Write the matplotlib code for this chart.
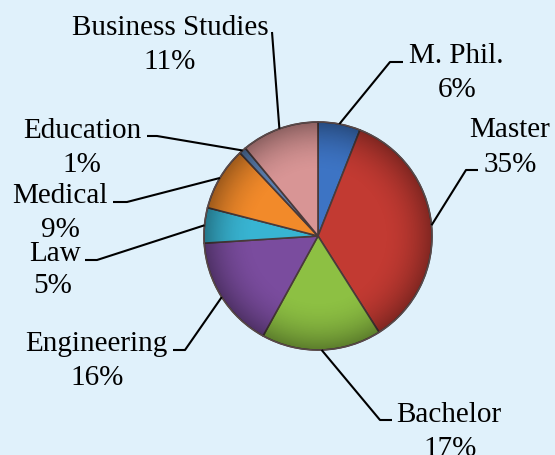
import numpy as np
import matplotlib
matplotlib.use("Agg")
import matplotlib.pyplot as plt
from matplotlib.patches import Circle

# data (clockwise from 12 o'clock)
categories = ["M. Phil.", "Master", "Bachelor", "Engineering", "Law",
              "Medical", "Education", "Business Studies"]
shares = [6, 35, 17, 16, 5, 9, 1, 11]
colors = ["#3d74c4", "#c23a32", "#8dc043", "#7a4c9e", "#38b4d2",
          "#f28a2a", "#5b7fb0", "#d89595"]

# label layout in image pixels (x centre, baseline y from top)
name_pos = [(456, 63), (510, 137), (449, 422), (96, 351), (55, 261),
            (60, 203), (82, 138), (170, 35)]
pct_pos = [(457, 97), (510, 172), (450, 456), (97, 385), (53, 293),
           (60, 237), (82, 172), (170, 69)]
elbows = [[(403, 63), (390, 63)], [(478, 171), (466, 171)], [(392, 421), (380, 421)],
          [(173, 351), (185, 351)], [(85, 261), (97, 261)], [(113, 203), (127, 203)],
          [(147, 137), (157, 137)], [(272, 33), (272, 33)]]

W, H = 555, 456
bg = "#e0f1fb"
cx, cy, r = 318, H - 237, 114

fig = plt.figure(figsize=(W / 100, H / 100), dpi=100, facecolor=bg)
ax = fig.add_axes([0, 0, 1, 1])

wedges, _ = ax.pie(shares, colors=colors, startangle=90, counterclock=False,
                   center=(cx, cy), radius=r, frame=True,
                   wedgeprops=dict(edgecolor="#4a3a3a", linewidth=1.2))
ax.set_xlim(0, W)
ax.set_ylim(0, H)
ax.set_aspect("equal")
ax.axis("off")

# soft darkening toward the rim
yy, xx = np.mgrid[-1:1:300j, -1:1:300j]
rr = np.sqrt(xx ** 2 + yy ** 2)
alpha = np.clip((rr - 0.55) / 0.45, 0, 1) ** 2 * 0.35
shade = np.zeros((300, 300, 4))
shade[..., 3] = alpha
im = ax.imshow(shade, extent=(cx - r, cx + r, cy - r, cy + r), zorder=3)
im.set_clip_path(Circle((cx, cy), r, transform=ax.transData))
ax.add_patch(Circle((cx, cy), r, fill=False, edgecolor="#5a4a4a", lw=1.0, zorder=4))

font = dict(family="Liberation Serif", fontsize=21, color="black")
for w, name, share, (nx, ny), (px, py), elb in zip(wedges, categories, shares,
                                                    name_pos, pct_pos, elbows):
    mid = np.deg2rad((w.theta1 + w.theta2) / 2)
    tip = (cx + r * np.cos(mid), cy + r * np.sin(mid))
    xs = [elb[0][0], elb[1][0], tip[0]]
    ys = [H - elb[0][1], H - elb[1][1], tip[1]]
    ax.plot(xs, ys, color="black", lw=1.5, zorder=5, solid_capstyle="butt")
    ax.text(nx, H - ny, name, ha="center", va="baseline", **font)
    ax.text(px, H - py, f"{share}%", ha="center", va="baseline", **font)

fig.savefig("out.png", dpi=100, facecolor=bg)
